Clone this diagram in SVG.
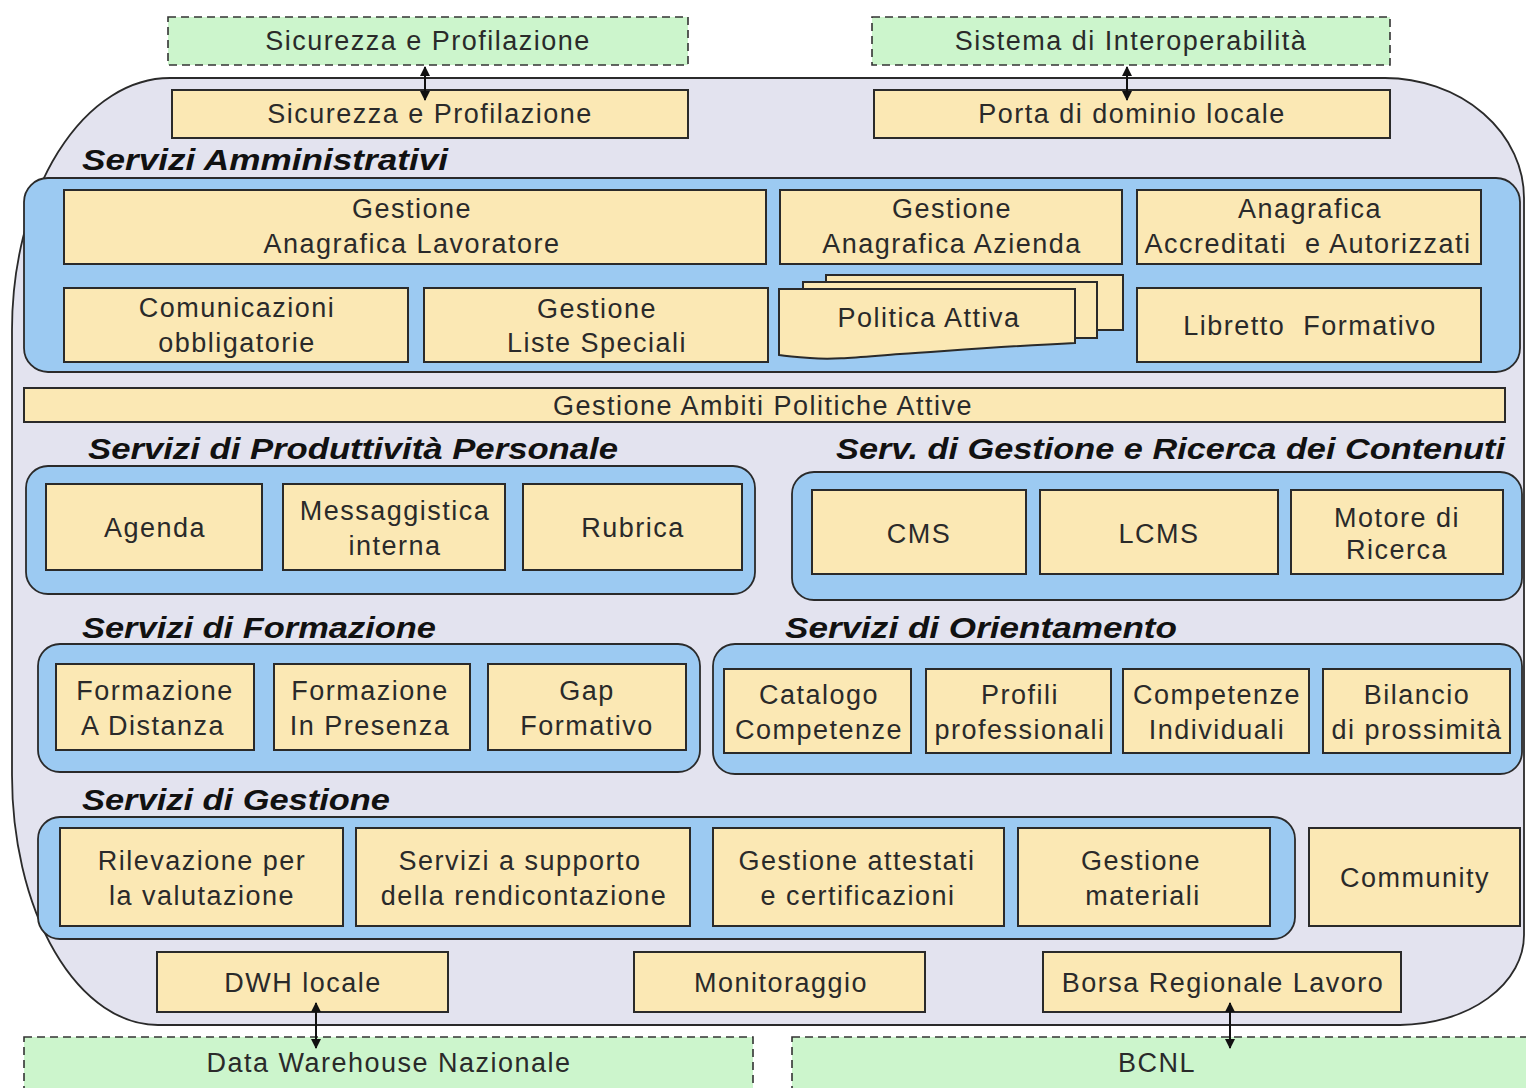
<svg xmlns="http://www.w3.org/2000/svg" width="1526" height="1088" viewBox="0 0 1526 1088">
<defs>
<style>
.ext{fill:#ccf5cc;stroke:#333;stroke-width:1.6;stroke-dasharray:8,5}
.box{fill:#fbe8b4;stroke:#2a2a2a;stroke-width:2}
.grp{fill:#9ccaf2;stroke:#2a2a2a;stroke-width:1.8}
.t{font-family:"Liberation Sans",Arial,sans-serif;font-size:27px;letter-spacing:1.5px;fill:#2a2a2a;text-anchor:middle}
.sec{font-family:"Liberation Sans",Arial,sans-serif;font-size:29px;font-weight:bold;font-style:italic;fill:#111}
.con{stroke:#111;stroke-width:2;fill:none;marker-start:url(#ah);marker-end:url(#ah)}
</style>
<marker id="ah" viewBox="0 0 10 10" refX="9" refY="5" markerWidth="5" markerHeight="5" orient="auto-start-reverse" markerUnits="strokeWidth">
<path d="M0,0 L10,5 L0,10 Z" fill="#111"/>
</marker>
</defs>
<rect width="1526" height="1088" fill="#ffffff"/>

<g id="outer">
<path d="M170,78 H1385 A140,120 0 0 1 1524,198 V935 A125,90 0 0 1 1400,1025 H158 A146,250 0 0 1 12,775 V330 A158,252 0 0 1 170,78 Z" fill="#e3e3ef" stroke="#2a2a2a" stroke-width="1.8"/>
</g>

<g id="ext-sicurezza"><rect class="ext" x="168" y="17" width="520" height="48"/><text class="t" x="428" y="50">Sicurezza e Profilazione</text></g>
<g id="ext-interop"><rect class="ext" x="872" y="17" width="518" height="48"/><text class="t" x="1131" y="50">Sistema di Interoperabilità</text></g>

<g id="sicurezza"><rect class="box" x="172" y="90" width="516" height="48"/><text class="t" x="430" y="123">Sicurezza e Profilazione</text></g>
<g id="porta"><rect class="box" x="874" y="90" width="516" height="48"/><text class="t" x="1132" y="123">Porta di dominio locale</text></g>

<text class="sec" x="82" y="170" textLength="366" lengthAdjust="spacingAndGlyphs">Servizi Amministrativi</text>
<g id="grp-amm"><rect class="grp" x="24" y="178" width="1496" height="194" rx="24"/></g>
<g id="anag-lav"><rect class="box" x="64" y="190" width="702" height="74"/><text class="t" x="412" y="218">Gestione</text><text class="t" x="412" y="253">Anagrafica Lavoratore</text></g>
<g id="anag-az"><rect class="box" x="780" y="190" width="342" height="74"/><text class="t" x="952" y="218">Gestione</text><text class="t" x="952" y="253">Anagrafica Azienda</text></g>
<g id="anag-acc"><rect class="box" x="1137" y="190" width="344" height="74"/><text class="t" x="1310" y="218">Anagrafica</text><text class="t" x="1308" y="253" xml:space="preserve">Accreditati  e Autorizzati</text></g>
<g id="comunicazioni"><rect class="box" x="64" y="288" width="344" height="74"/><text class="t" x="237" y="317">Comunicazioni</text><text class="t" x="237" y="352">obbligatorie</text></g>
<g id="liste"><rect class="box" x="424" y="288" width="344" height="74"/><text class="t" x="597" y="318">Gestione</text><text class="t" x="597" y="352">Liste Speciali</text></g>
<g id="politica">
<path class="box" d="M826,275 H1123 V330 H1097 V282 H826 Z"/>
<path class="box" d="M803,282 H1097 V338 H1075 V289 H803 Z"/>
<path class="box" d="M779,289 H1075 V343 C1010,346 960,350 900,354 C860,357 835,360 810,358 C795,357 785,356 779,355 Z"/>
<text class="t" x="929" y="327">Politica Attiva</text>
</g>
<g id="libretto"><rect class="box" x="1137" y="288" width="344" height="74"/><text class="t" x="1310" y="335" xml:space="preserve">Libretto  Formativo</text></g>

<g id="ambiti"><rect class="box" x="24" y="388" width="1481" height="34"/><text class="t" x="763" y="415">Gestione Ambiti Politiche Attive</text></g>

<text class="sec" x="88" y="459" textLength="530" lengthAdjust="spacingAndGlyphs">Servizi di Produttività Personale</text>
<text class="sec" x="836" y="459" textLength="669" lengthAdjust="spacingAndGlyphs">Serv. di Gestione e Ricerca dei Contenuti</text>

<g id="grp-prod"><rect class="grp" x="26" y="466" width="729" height="128" rx="22"/></g>
<g id="agenda"><rect class="box" x="46" y="484" width="216" height="86"/><text class="t" x="155" y="537">Agenda</text></g>
<g id="messaggistica"><rect class="box" x="283" y="484" width="222" height="86"/><text class="t" x="395" y="520">Messaggistica</text><text class="t" x="395" y="555">interna</text></g>
<g id="rubrica"><rect class="box" x="523" y="484" width="219" height="86"/><text class="t" x="633" y="537">Rubrica</text></g>

<g id="grp-cont"><rect class="grp" x="792" y="472" width="730" height="128" rx="22"/></g>
<g id="cms"><rect class="box" x="812" y="490" width="214" height="84"/><text class="t" x="919" y="543">CMS</text></g>
<g id="lcms"><rect class="box" x="1040" y="490" width="238" height="84"/><text class="t" x="1159" y="543">LCMS</text></g>
<g id="motore"><rect class="box" x="1291" y="490" width="212" height="84"/><text class="t" x="1397" y="527">Motore di</text><text class="t" x="1397" y="559">Ricerca</text></g>

<text class="sec" x="82" y="638" textLength="354" lengthAdjust="spacingAndGlyphs">Servizi di Formazione</text>
<text class="sec" x="785" y="638" textLength="392" lengthAdjust="spacingAndGlyphs">Servizi di Orientamento</text>

<g id="grp-form"><rect class="grp" x="38" y="644" width="662" height="128" rx="22"/></g>
<g id="fad"><rect class="box" x="56" y="664" width="198" height="86"/><text class="t" x="155" y="700">Formazione</text><text class="t" x="153" y="735">A Distanza</text></g>
<g id="fip"><rect class="box" x="274" y="664" width="196" height="86"/><text class="t" x="370" y="700">Formazione</text><text class="t" x="370" y="735">In Presenza</text></g>
<g id="gap"><rect class="box" x="488" y="664" width="198" height="86"/><text class="t" x="587" y="700">Gap</text><text class="t" x="587" y="735">Formativo</text></g>

<g id="grp-orient"><rect class="grp" x="713" y="644" width="809" height="130" rx="22"/></g>
<g id="catalogo"><rect class="box" x="724" y="669" width="187" height="84"/><text class="t" x="819" y="704">Catalogo</text><text class="t" x="819" y="739">Competenze</text></g>
<g id="profili"><rect class="box" x="926" y="669" width="185" height="84"/><text class="t" x="1020" y="704">Profili</text><text class="t" x="1020" y="739">professionali</text></g>
<g id="comp-ind"><rect class="box" x="1123" y="669" width="186" height="84"/><text class="t" x="1217" y="704">Competenze</text><text class="t" x="1217" y="739">Individuali</text></g>
<g id="bilancio"><rect class="box" x="1323" y="669" width="187" height="84"/><text class="t" x="1417" y="704">Bilancio</text><text class="t" x="1417" y="739">di prossimità</text></g>

<text class="sec" x="82" y="810" textLength="308" lengthAdjust="spacingAndGlyphs">Servizi di Gestione</text>

<g id="grp-gest"><rect class="grp" x="38" y="817" width="1257" height="122" rx="22"/></g>
<g id="rilevazione"><rect class="box" x="60" y="828" width="283" height="98"/><text class="t" x="202" y="870">Rilevazione per</text><text class="t" x="202" y="905">la valutazione</text></g>
<g id="rendicontazione"><rect class="box" x="356" y="828" width="334" height="98"/><text class="t" x="520" y="870">Servizi a supporto</text><text class="t" x="524" y="905">della rendicontazione</text></g>
<g id="attestati"><rect class="box" x="713" y="828" width="291" height="98"/><text class="t" x="857" y="870">Gestione attestati</text><text class="t" x="858" y="905">e certificazioni</text></g>
<g id="materiali"><rect class="box" x="1018" y="828" width="252" height="98"/><text class="t" x="1141" y="870">Gestione</text><text class="t" x="1143" y="905">materiali</text></g>
<g id="community"><rect class="box" x="1309" y="828" width="211" height="98"/><text class="t" x="1415" y="887">Community</text></g>

<g id="dwh"><rect class="box" x="157" y="952" width="291" height="60"/><text class="t" x="303" y="992">DWH locale</text></g>
<g id="monitoraggio"><rect class="box" x="634" y="952" width="291" height="60"/><text class="t" x="781" y="992">Monitoraggio</text></g>
<g id="borsa"><rect class="box" x="1043" y="952" width="358" height="60"/><text class="t" x="1223" y="992">Borsa Regionale Lavoro</text></g>

<g id="ext-dwh"><rect class="ext" x="24" y="1037" width="729" height="60"/><text class="t" x="389" y="1072">Data Warehouse Nazionale</text></g>
<g id="ext-bcnl"><rect class="ext" x="792" y="1037" width="742" height="60"/><text class="t" x="1157" y="1072">BCNL</text></g>

<g id="connectors">
<line class="con" x1="425" y1="67" x2="425" y2="100"/>
<line class="con" x1="1127" y1="67" x2="1127" y2="100"/>
<line class="con" x1="316" y1="1003" x2="316" y2="1048"/>
<line class="con" x1="1230" y1="1003" x2="1230" y2="1048"/>
</g>
</svg>
